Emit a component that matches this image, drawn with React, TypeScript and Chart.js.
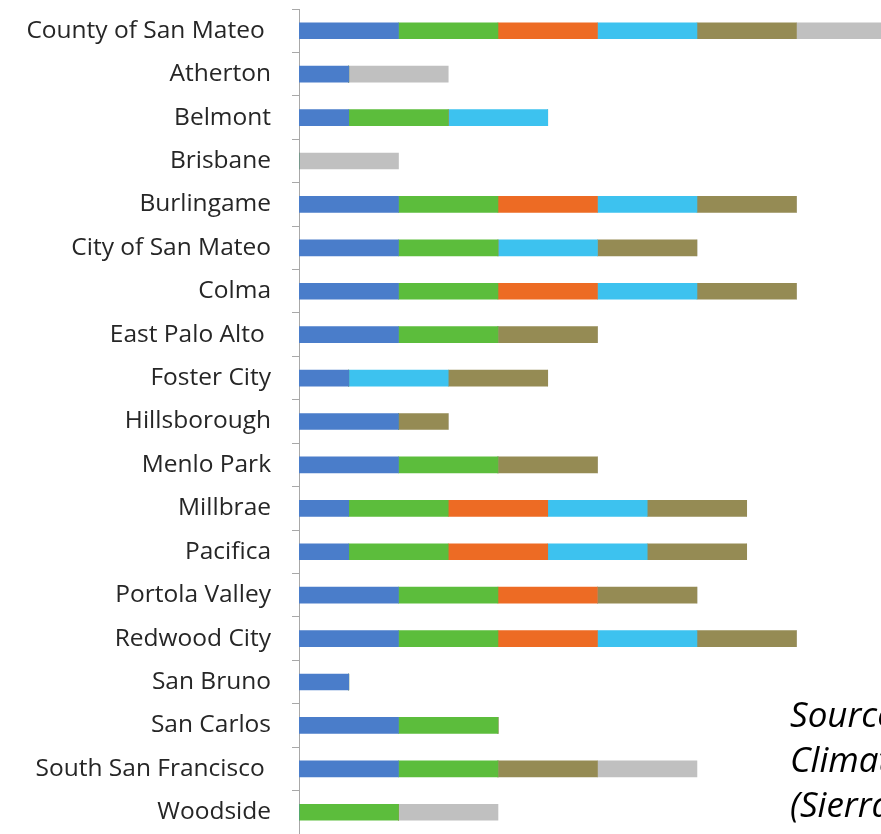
import React, { useEffect, useRef } from "react";
import { Chart, registerables } from "chart.js";

Chart.register(...registerables);

const categories = [
  "County of San Mateo ",
  "Atherton",
  "Belmont",
  "Brisbane",
  "Burlingame",
  "City of San Mateo",
  "Colma",
  "East Palo Alto ",
  "Foster City",
  "Hillsborough",
  "Menlo Park",
  "Millbrae",
  "Pacifica",
  "Portola Valley",
  "Redwood City",
  "San Bruno",
  "San Carlos",
  "South San Francisco ",
  "Woodside",
];

const seriesBlue = [1, 0.5, 0.5, 0, 1, 1, 1, 1, 0.5, 1, 1, 0.5, 0.5, 1, 1, 0.5, 1, 1, 0];
const seriesGreen = [1, 0, 1, 0, 1, 1, 1, 1, 0, 0, 1, 1, 1, 1, 1, 0, 1, 1, 1];
const seriesOrange = [1, 0, 0, 0, 1, 0, 1, 0, 0, 0, 0, 1, 1, 1, 1, 0, 0, 0, 0];
const seriesCyan = [1, 0, 1, 0, 1, 1, 1, 0, 1, 0, 0, 1, 1, 0, 1, 0, 0, 0, 0];
const seriesOlive = [1, 0, 0, 0, 1, 1, 1, 1, 1, 0.5, 1, 1, 1, 1, 1, 0, 0, 1, 0];
const seriesGray = [1, 1, 0, 1, 0, 0, 0, 0, 0, 0, 0, 0, 0, 0, 0, 0, 0, 1, 1];

const seriesNames = ["Series 1", "Series 2", "Series 3", "Series 4", "Series 5", "Series 6"];
const seriesColors = ["#4a7dca", "#5cbd3c", "#ed6b24", "#3dc2ef", "#958b54", "#c0c0c0"];

const sourceLines = ["Source:", "Climate", "(Sierra"];

const xMax = 5.85;

export default function App() {
  const canvasRef = useRef<HTMLCanvasElement | null>(null);

  useEffect(() => {
    const canvas = canvasRef.current;
    if (!canvas) return;
    const allSeries = [seriesBlue, seriesGreen, seriesOrange, seriesCyan, seriesOlive, seriesGray];
    const chart = new Chart(canvas, {
      type: "bar",
      data: {
        labels: categories,
        datasets: allSeries.map((d, i) => ({
          label: seriesNames[i],
          data: d,
          backgroundColor: seriesColors[i],
          borderWidth: 0,
          barThickness: 16,
        })),
      },
      options: {
        indexAxis: "y",
        responsive: false,
        animation: false,
        layout: { padding: { top: 9, bottom: 0, left: 0, right: 0 } },
        plugins: {
          legend: { display: false },
          tooltip: { enabled: false },
        },
        scales: {
          x: {
            stacked: true,
            display: false,
            min: 0,
            max: xMax,
          },
          y: {
            stacked: true,
            offset: true,
            afterFit: (scale: any) => {
              scale.width = 299;
              scale.paddingTop = 0;
              scale.paddingBottom = 0;
            },
            border: { display: true, color: "#a8a8a8", width: 1 },
            grid: {
              offset: true,
              drawOnChartArea: false,
              drawTicks: true,
              tickLength: 7,
              color: "#a8a8a8",
            },
            ticks: {
              color: "#262626",
              padding: 21,
              font: { family: "Open Sans", size: 24.5 },
            },
          },
        },
      },
    });
    return () => chart.destroy();
  }, []);

  return (
    <div
      style={{
        position: "fixed",
        left: 0,
        top: 0,
        width: 881,
        height: 834,
        overflow: "hidden",
        background: "#ffffff",
      }}
    >
      <canvas ref={canvasRef} width={881} height={834} style={{ display: "block" }} />
      <div
        style={{
          position: "absolute",
          left: 790,
          top: 691,
          fontFamily: "Open Sans",
          fontStyle: "italic",
          fontSize: 35,
          lineHeight: "45px",
          color: "#000000",
          whiteSpace: "nowrap",
        }}
      >
        {sourceLines.map((t) => (
          <div key={t}>{t}</div>
        ))}
      </div>
    </div>
  );
}
